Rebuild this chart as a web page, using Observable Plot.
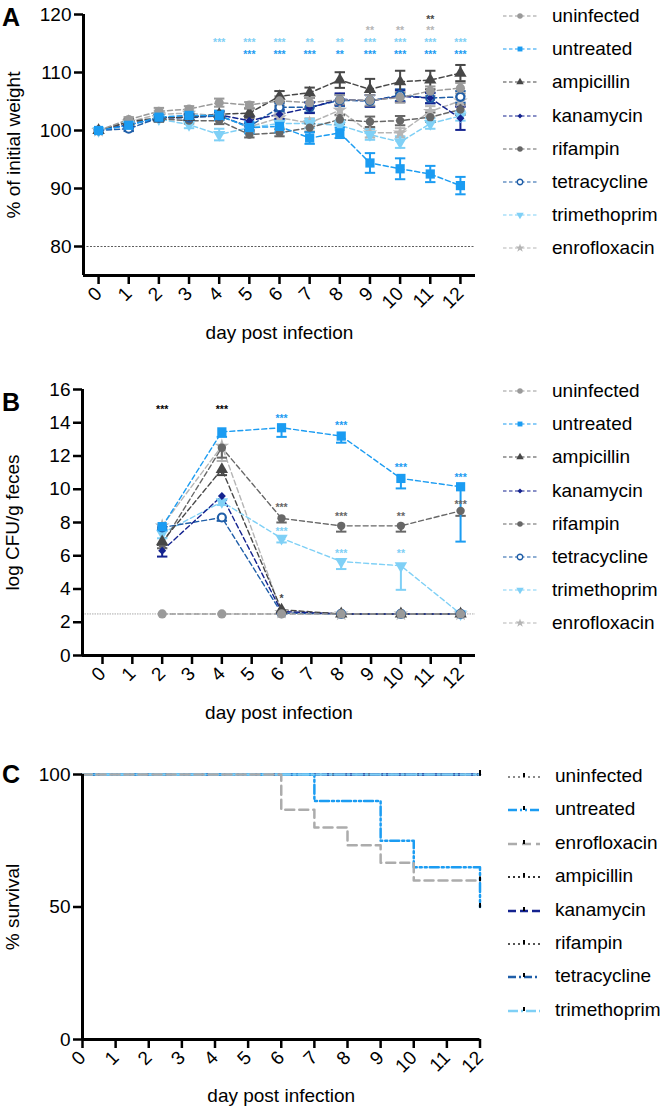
<!DOCTYPE html>
<html><head><meta charset="utf-8">
<script src="https://cdn.jsdelivr.net/npm/d3@7"></script>
<script src="https://cdn.jsdelivr.net/npm/@observablehq/plot@0.6"></script>
<style>
body{margin:0;background:#fff;}
#root{position:relative;width:666px;height:1108px;font-family:"Liberation Sans",Arial,sans-serif;color:#000;overflow:hidden;}
.panel{position:absolute;left:0;}
.plabel{position:absolute;font-weight:bold;font-size:25px;line-height:25px;}
.item{position:absolute;height:22px;display:flex;align-items:center;white-space:nowrap;font-size:19px;}
.item svg{margin-right:15px;overflow:visible;}
</style></head><body><div id="root"></div>
<script>
// ---------- categories ----------
const groups = ["uninfected","untreated","ampicillin","kanamycin","rifampin","tetracycline","trimethoprim","enrofloxacin"];
const groupsC = ["uninfected","untreated","enrofloxacin","ampicillin","kanamycin","rifampin","tetracycline","trimethoprim"];

// ---------- panel A: % of initial weight (days 0-12) ----------
const daysA = [0,1,2,3,4,5,6,7,8,9,10,11,12];
const weight_uninfected   = [100,101.9,103.3,103.7,104.8,104.4,105.1,104.8,105.3,105.2,105.7,106.8,107.3];
const weight_untreated    = [100,100.9,102.3,102.6,102.6,100.5,100.7,98.7,99.6,94.4,93.4,92.5,90.5];
const weight_ampicillin   = [100,101.5,102.2,102.3,102.8,103.0,105.9,106.5,108.7,107.1,108.4,108.7,109.9];
const weight_kanamycin    = [100,101.0,102.2,102.3,102.7,101.7,102.8,103.9,105.4,105.1,105.9,105.6,102.1];
const weight_rifampin     = [100,101.5,102.0,101.7,101.7,99.3,99.6,100.5,101.9,101.5,101.7,102.3,103.6];
const weight_tetracycline = [100,100.3,102.2,102.2,102.5,100.7,104.0,104.0,105.2,105.1,106.1,105.6,105.8];
const weight_trimethoprim = [100,101.0,102.0,101.0,99.3,100.5,101.2,101.2,100.9,99.3,98.0,101.2,102.5];
const weight_enrofloxacin = [100,101.5,102.8,103.0,102.5,100.6,102.2,101.3,103.5,99.6,99.6,103.3,105.1];
const sem_uninfected   = [0,0.4,0.6,0.5,0.7,0.5,0.8,0.8,0.8,0.9,0.9,0.8,0.9];
const sem_untreated    = [0,0.5,0.5,0.6,0.8,1.0,1.0,1.0,0.9,1.7,1.8,1.4,1.5];
const sem_ampicillin   = [0,0.4,0.5,0.5,0.6,0.8,0.9,0.9,1.35,1.8,1.9,1.6,1.4];
const sem_kanamycin    = [0,0.4,0.5,0.5,0.6,0.7,0.8,0.9,1.0,1.0,1.0,0.9,2.0];
const sem_rifampin     = [0,0.4,0.5,0.5,0.6,0.5,0.6,0.7,0.8,0.9,0.8,0.8,0.9];
const sem_tetracycline = [0,0.4,0.5,0.5,0.6,0.6,0.7,0.9,1.0,1.0,1.0,0.9,1.0];
const sem_trimethoprim = [0,0.4,0.5,0.6,1.0,0.7,0.7,0.8,0.8,0.9,1.0,0.9,0.8];
const sem_enrofloxacin = [0,0.4,0.6,0.5,0.7,0.6,0.7,0.8,0.9,0.8,0.8,0.9,0.9];
const yTicksA = [80,90,100,110,120];
const refLineA = [80];
// significance annotations A
const starA_day   = [4,5,5,6,6,7,7,8,8,9,9,9,10,10,10,11,11,11,11,12,12];
const starA_label = ["***","***","***","***","***","**","***","**","**","***","***","**","***","***","**","***","***","**","**","***","***"];
const starA_group = ["trimethoprim","trimethoprim","untreated","trimethoprim","untreated","trimethoprim","untreated","trimethoprim","untreated",
                     "trimethoprim","untreated","enrofloxacin","trimethoprim","untreated","enrofloxacin","trimethoprim","untreated","enrofloxacin","ampicillin","trimethoprim","untreated"];
const starA_y     = [115.6,115.6,113.6,115.6,113.6,115.6,113.6,115.6,113.6,115.6,113.6,117.7,115.6,113.6,117.7,115.6,113.6,117.7,119.6,115.6,113.6];

// ---------- panel B: log CFU/g feces ----------
const daysB = [2,4,6,8,10,12];
const cfu_uninfected   = [2.5,2.5,2.5,2.5,2.5,2.5];
const cfu_untreated    = [7.75,13.45,13.7,13.2,10.65,10.15];
const cfu_ampicillin   = [6.85,11.2,2.75,2.5,2.5,2.5];
const cfu_kanamycin    = [6.3,9.6,2.65,2.5,2.5,2.5];
const cfu_rifampin     = [6.7,12.5,8.25,7.8,7.8,8.7];
const cfu_tetracycline = [7.7,8.3,2.55,2.5,2.5,2.5];
const cfu_trimethoprim = [7.35,9.25,7.05,5.65,5.4,2.5];
const cfu_enrofloxacin = [7.8,12.6,2.6,2.5,2.5,2.5];
const cfuErr_uninfected   = [0,0,0,0,0,0];
const cfuErr_untreated    = [0.2,0.3,0.55,0.4,0.6,3.3];
const cfuErr_ampicillin   = [0.2,0.35,0.1,0,0,0];
const cfuErr_kanamycin    = [0.35,0.25,0.1,0,0,0];
const cfuErr_rifampin     = [0.25,0.6,0.25,0.35,0.35,0.3];
const cfuErr_tetracycline = [0.2,0.2,0,0,0,0];
const cfuErr_trimethoprim = [0.3,0.2,0.25,0.45,1.45,0];
const cfuErr_enrofloxacin = [0.2,0.9,0.1,0,0,0];
const yTicksB = [0,2,4,6,8,10,12,14,16];
const detectionLimitB = [2.5];
const starB_day   = [2,4,6,8,10,12,6,8,10,12,6,8,10,6];
const starB_label = ["***","***","***","***","***","***","***","***","**","***","***","***","**","*"];
const starB_group = ["all","all","untreated","untreated","untreated","untreated","rifampin","rifampin","rifampin","rifampin","trimethoprim","trimethoprim","trimethoprim","ampicillin"];
const starB_y     = [15.0,15.0,14.45,14.0,11.5,10.9,9.05,8.55,8.55,9.25,7.65,6.3,6.3,3.6];

// ---------- panel C: survival ----------
const daysC = [0,1,2,3,4,5,6,7,8,9,10,11,12];
const survDays_uninfected   = [0,12];  const surv_uninfected   = [100,100];
const survDays_untreated    = [0,7,9,10,12]; const surv_untreated = [100,90,75,65,50];
const survDays_enrofloxacin = [0,6,7,8,9,10,12]; const surv_enrofloxacin = [100,86.7,80,73.3,66.7,60,60];
const survDays_ampicillin   = [0,12];  const surv_ampicillin   = [100,100];
const survDays_kanamycin    = [0,12];  const surv_kanamycin    = [100,100];
const survDays_rifampin     = [0,12];  const surv_rifampin     = [100,100];
const survDays_tetracycline = [0,12];  const surv_tetracycline = [100,100];
const survDays_trimethoprim = [0,12];  const surv_trimethoprim = [100,100];
const yTicksC = [0,50,100];

// ---------- styles ----------
const color = {uninfected:"#9a9a9a", untreated:"#1b9cf2", ampicillin:"#474747", kanamycin:"#14238f",
  rifampin:"#676767", tetracycline:"#1f5ea8", trimethoprim:"#7fd0f6", enrofloxacin:"#b5b5b5", all:"#000"};
const triangleDown = {draw(ctx, size){ const a = Math.sqrt(4*size/Math.sqrt(3)), h = a*Math.sqrt(3)/2;
  ctx.moveTo(0, 2*h/3); ctx.lineTo(-a/2, -h/3); ctx.lineTo(a/2, -h/3); ctx.closePath(); }};
const triangleUp = {draw(ctx, size){ const a = Math.sqrt(4*size/Math.sqrt(3)), h = a*Math.sqrt(3)/2;
  ctx.moveTo(0, -2*h/3); ctx.lineTo(-a/2, h/3); ctx.lineTo(a/2, h/3); ctx.closePath(); }};
const capSym = {draw(ctx, size){ const w = Math.sqrt(size/Math.PI); ctx.moveTo(-w,0); ctx.lineTo(w,0); }};
const censorSym = {draw(ctx, size){ const w = Math.sqrt(size/Math.PI); ctx.moveTo(0,-w); ctx.lineTo(0,w*0.2); }};
const symbol = {uninfected:"circle", untreated:"square", ampicillin:triangleUp, kanamycin:"diamond2",
  rifampin:"circle", tetracycline:"circle", trimethoprim:triangleDown, enrofloxacin:"star"};
const dotR = {uninfected:4.6, untreated:5.2, ampicillin:4.6, kanamycin:3.6, rifampin:4.2, tetracycline:4.0, trimethoprim:4.6, enrofloxacin:4.6};
const lineC = {
  uninfected:{dash:"2,3", w:2, c:"#8a8a8a"}, untreated:{dash:"9,3,2,3,2,3", w:2.5, c:"#1b9cf2"},
  enrofloxacin:{dash:"9,5", w:2.5, c:"#acacac"}, ampicillin:{dash:"2,3", w:2, c:"#333"},
  kanamycin:{dash:"8,4", w:2.5, c:"#14238f"}, rifampin:{dash:"2,3", w:2, c:"#555"},
  tetracycline:{dash:"8,3,2,3", w:2.5, c:"#1f5ea8"}, trimethoprim:{dash:"10,3,2,3", w:2.5, c:"#7fd0f6"}};

const src = {
  weight: {uninfected:weight_uninfected, untreated:weight_untreated, ampicillin:weight_ampicillin, kanamycin:weight_kanamycin,
    rifampin:weight_rifampin, tetracycline:weight_tetracycline, trimethoprim:weight_trimethoprim, enrofloxacin:weight_enrofloxacin},
  sem: {uninfected:sem_uninfected, untreated:sem_untreated, ampicillin:sem_ampicillin, kanamycin:sem_kanamycin,
    rifampin:sem_rifampin, tetracycline:sem_tetracycline, trimethoprim:sem_trimethoprim, enrofloxacin:sem_enrofloxacin},
  cfu: {uninfected:cfu_uninfected, untreated:cfu_untreated, ampicillin:cfu_ampicillin, kanamycin:cfu_kanamycin,
    rifampin:cfu_rifampin, tetracycline:cfu_tetracycline, trimethoprim:cfu_trimethoprim, enrofloxacin:cfu_enrofloxacin},
  cfuErr: {uninfected:cfuErr_uninfected, untreated:cfuErr_untreated, ampicillin:cfuErr_ampicillin, kanamycin:cfuErr_kanamycin,
    rifampin:cfuErr_rifampin, tetracycline:cfuErr_tetracycline, trimethoprim:cfuErr_trimethoprim, enrofloxacin:cfuErr_enrofloxacin},
  survDays: {uninfected:survDays_uninfected, untreated:survDays_untreated, enrofloxacin:survDays_enrofloxacin, ampicillin:survDays_ampicillin,
    kanamycin:survDays_kanamycin, rifampin:survDays_rifampin, tetracycline:survDays_tetracycline, trimethoprim:survDays_trimethoprim},
  surv: {uninfected:surv_uninfected, untreated:surv_untreated, enrofloxacin:surv_enrofloxacin, ampicillin:surv_ampicillin,
    kanamycin:surv_kanamycin, rifampin:surv_rifampin, tetracycline:surv_tetracycline, trimethoprim:surv_trimethoprim}
};

const drawOrder = ["enrofloxacin","trimethoprim","rifampin","tetracycline","kanamycin","ampicillin","uninfected","untreated"];

function seriesMarks(rowsFor, lowerOnly, dash, lw){
  const marks = [];
  for (const g of drawOrder) {
    const rows = rowsFor(g);
    marks.push(Plot.line(rows, {x:"day", y:"v", stroke:color[g], strokeWidth:lw, strokeDasharray:dash}));
  }
  for (const g of drawOrder) {
    const rows = rowsFor(g).filter(d => d.e > 0);
    const lo = d => d.v - d.e, hi = d => lowerOnly ? d.v : d.v + d.e;
    marks.push(Plot.ruleX(rows, {x:"day", y1:lo, y2:hi, stroke:color[g], strokeWidth:2}));
    marks.push(Plot.dot(rows, {x:"day", y:lo, symbol:capSym, r:5.2, stroke:color[g], strokeWidth:2, fill:"none"}));
    if (!lowerOnly) marks.push(Plot.dot(rows, {x:"day", y:hi, symbol:capSym, r:5.2, stroke:color[g], strokeWidth:2, fill:"none"}));
  }
  for (const g of drawOrder) {
    const rows = rowsFor(g);
    const open = g === "tetracycline";
    marks.push(Plot.dot(rows, {x:"day", y:"v", symbol:symbol[g], r:dotR[g], fill: open ? "white" : color[g],
      stroke: open ? color[g] : "none", strokeWidth: open ? 2.2 : 0}));
  }
  return marks;
}

const baseStyle = {fontFamily:'"Liberation Sans", Arial, sans-serif', fontSize:"19px", color:"#000", background:"transparent", overflow:"visible"};
const root = document.getElementById("root");

function axes(xTicks, yTicks, xLabel, yLabel, xDomain, yDomain, xLabelOffset){
  return [
    Plot.axisY({ticks:yTicks, tickSize:9, tickPadding:3, strokeWidth:2.5, fontSize:19, label:yLabel, labelAnchor:"center", labelArrow:"none", labelOffset:77}),
    Plot.axisX({ticks:xTicks, tickSize:9, tickPadding:6, tickRotate:-45, strokeWidth:2.5, fontSize:19, tickFormat:d=>String(d), label:xLabel, labelAnchor:"center", labelArrow:"none", labelOffset:xLabelOffset}),
    Plot.ruleX([xDomain[0]], {strokeWidth:3, stroke:"#000"}),
    Plot.ruleY([yDomain[0]], {strokeWidth:3, stroke:"#000"})
  ];
}
const starStyle = {fontSize:10.5, fontWeight:"bold", dy:3};

// ---------- Panel A ----------
const xDomA = [-0.5, 12.5], yDomA = [75, 120];
const rowsA = g => daysA.map((d,i) => ({day:d, v:src.weight[g][i], e:src.sem[g][i]}));
const starsA = starA_day.map((d,i) => ({day:d, y:starA_y[i], t:starA_label[i], g:starA_group[i]}));
const plotA = Plot.plot({
  width:490, height:352, marginLeft:83, marginRight:15, marginTop:14, marginBottom:77,
  x:{domain:xDomA}, y:{domain:yDomA},
  style: baseStyle,
  marks:[
    Plot.ruleY(refLineA, {stroke:"#333", strokeWidth:0.8, strokeDasharray:"2,1.5"}),
    ...seriesMarks(rowsA, false, "5,3", 1.5),
    Plot.text(starsA, {x:"day", y:"y", text:"t", fill:d=>color[d.g], ...starStyle}),
    ...axes(daysA, yTicksA, "day post infection", "% of initial weight", xDomA, yDomA, 63)
  ]
});
plotA.classList.add("panel"); plotA.style.top = "0px";
root.appendChild(plotA);

// ---------- Panel B ----------
const xDomB = [-0.67, 12.5], yDomB = [0, 16];
const rowsB = g => daysB.map((d,i) => ({day:d, v:src.cfu[g][i], e:src.cfuErr[g][i]}));
const starsB = starB_day.map((d,i) => ({day:d, y:starB_y[i], t:starB_label[i], g:starB_group[i]}));
const plotB = Plot.plot({
  width:490, height:357, marginLeft:82, marginRight:15, marginTop:14, marginBottom:77,
  x:{domain:xDomB}, y:{domain:yDomB},
  style: baseStyle,
  marks:[
    Plot.ruleY(detectionLimitB, {stroke:"#aaa", strokeWidth:1, strokeDasharray:"1.5,1"}),
    ...seriesMarks(rowsB, true, "5,3", 1.4),
    Plot.text(starsB, {x:"day", y:"y", text:"t", fill:d=>color[d.g], ...starStyle}),
    ...axes(daysA, yTicksB, "day post infection", "log CFU/g feces", xDomB, yDomB, 63)
  ]
});
plotB.classList.add("panel"); plotB.style.top = "375px";
root.appendChild(plotB);

// ---------- Panel C ----------
const xDomC = [0, 12], yDomC = [0, 100];
const orderC = ["uninfected","rifampin","ampicillin","tetracycline","kanamycin","untreated","trimethoprim","enrofloxacin"];
const marksC = [];
for (const g of orderC) {
  const rows = src.survDays[g].map((d,i) => ({day:d, s:src.surv[g][i]}));
  marksC.push(Plot.line(rows, {x:"day", y:"s", curve:"step-after", stroke:lineC[g].c, strokeWidth:lineC[g].w, strokeDasharray:lineC[g].dash}));
}
for (const g of orderC) {
  const rows = src.survDays[g].map((d,i) => ({day:d, s:src.surv[g][i]})).slice(-1);
  marksC.push(Plot.dot(rows, {x:"day", y:"s", symbol:censorSym, r:4, stroke:"#000", strokeWidth:2, fill:"none"}));
}
const plotC = Plot.plot({
  width:490, height:348, marginLeft:82, marginRight:10.5, marginTop:14, marginBottom:69,
  x:{domain:xDomC}, y:{domain:yDomC},
  style: baseStyle,
  marks:[
    ...marksC,
    ...axes(daysC, yTicksC, "day post infection", "% survival", xDomC, yDomC, 62)
  ]
});
plotC.classList.add("panel"); plotC.style.top = "760px";
root.appendChild(plotC);

// ---------- panel letters ----------
[["A",2,5],["B",2,390],["C",2,762]].forEach(([t,x,y]) => {
  const d = document.createElement("div"); d.className = "plabel"; d.textContent = t;
  d.style.left = x + "px"; d.style.top = y + "px"; root.appendChild(d);
});

// ---------- legends ----------
function symbolPath(g, size){
  const s = symbol[g];
  const typ = {circle:d3.symbolCircle, square:d3.symbolSquare, diamond2:d3.symbolDiamond2, star:d3.symbolStar}[s] || s;
  return d3.symbol(typ, size)();
}
function legendAB(top){
  groups.forEach((g,i) => {
    const it = document.createElement("div"); it.className = "item";
    it.style.left = "503px"; it.style.top = (top + i*33.2 - 11) + "px";
    const svg = d3.create("svg").attr("width",34).attr("height",14);
    svg.append("line").attr("x1",0).attr("x2",34).attr("y1",7).attr("y2",7)
      .attr("stroke",color[g]).attr("stroke-width",1.2).attr("stroke-dasharray","3.5,2.5");
    const open = g === "tetracycline";
    svg.append("path").attr("d", symbolPath(g, g==="kanamycin"?16:24)).attr("transform","translate(17,7)")
      .attr("fill", open ? "white" : color[g]).attr("stroke", open ? color[g] : "none").attr("stroke-width",1.4);
    it.appendChild(svg.node());
    it.appendChild(document.createTextNode(g));
    root.appendChild(it);
  });
}
legendAB(16);
legendAB(391);
groupsC.forEach((g,i) => {
  const it = document.createElement("div"); it.className = "item";
  it.style.left = "508px"; it.style.top = (776 + i*33.4 - 11) + "px";
  const svg = d3.create("svg").attr("width",32).attr("height",14);
  svg.append("line").attr("x1",0).attr("x2",32).attr("y1",8).attr("y2",8)
    .attr("stroke",lineC[g].c).attr("stroke-width",lineC[g].w).attr("stroke-dasharray",lineC[g].dash);
  svg.append("line").attr("x1",16).attr("x2",16).attr("y1",4).attr("y2",8).attr("stroke","#000").attr("stroke-width",2);
  it.appendChild(svg.node());
  it.appendChild(document.createTextNode(g));
  root.appendChild(it);
});
</script></body></html>
